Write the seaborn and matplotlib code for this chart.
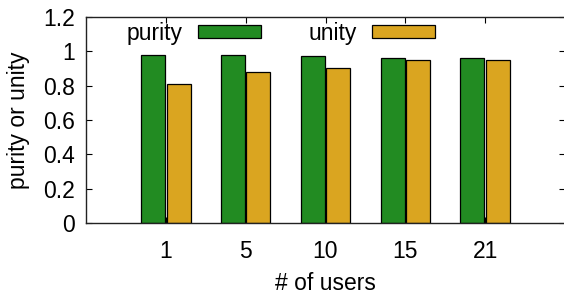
import pandas as pd
import numpy as np
import matplotlib
matplotlib.use("Agg")
import matplotlib.pyplot as plt
import seaborn as sns

# data
users = ["1", "5", "10", "15", "21"]
purity = [0.98, 0.98, 0.97, 0.96, 0.96]
unity = [0.81, 0.88, 0.90, 0.95, 0.95]

df = pd.DataFrame({
    "users": users * 2,
    "value": purity + unity,
    "metric": ["purity"] * len(users) + ["unity"] * len(users),
})

sns.set_theme(style="ticks")
plt.rcParams["font.family"] = ["Liberation Sans", "DejaVu Sans"]
plt.rcParams["text.color"] = "black"
plt.rcParams["axes.labelcolor"] = "black"
fs = 16.5

fig = plt.figure(figsize=(5.64, 2.97), dpi=100)
ax = fig.add_axes([86 / 564, 73.7 / 297, 479 / 564, 206.6 / 297])

sns.barplot(data=df, x="users", y="value", hue="metric", order=users,
            palette={"purity": "#228B22", "unity": "#DAA520"},
            width=0.64, gap=0.06, edgecolor="black", linewidth=0.9,
            saturation=1, ax=ax)

ax.set_xlim(-1, 5)
ax.set_ylim(0, 1.2)
ax.set_yticks([0, 0.2, 0.4, 0.6, 0.8, 1.0, 1.2])
ax.set_yticklabels(["%g" % v for v in ax.get_yticks()])
ax.tick_params(axis="both", direction="in", length=4, width=0.8,
               top=True, right=True, labelsize=fs, colors="black")
ax.tick_params(axis="y", pad=8)
ax.tick_params(axis="x", pad=12)
for s in ax.spines.values():
    s.set_linewidth(1.0)
    s.set_color("#222222")

ax.set_xlabel("# of users", fontsize=fs)
ax.set_ylabel("purity or unity", fontsize=fs)
ax.xaxis.set_label_coords(0.5, -0.237)
ax.yaxis.set_label_coords(-0.117, 0.5)

handles, labels = ax.get_legend_handles_labels()
ax.legend(handles, labels, ncol=2, markerfirst=False, frameon=False,
          loc="center left", bbox_to_anchor=(0.085, 0.92),
          handlelength=2.75, handleheight=0.52, handletextpad=0.65,
          columnspacing=2.1, fontsize=fs, borderaxespad=0, borderpad=0)

fig.savefig("out.png", dpi=100)
